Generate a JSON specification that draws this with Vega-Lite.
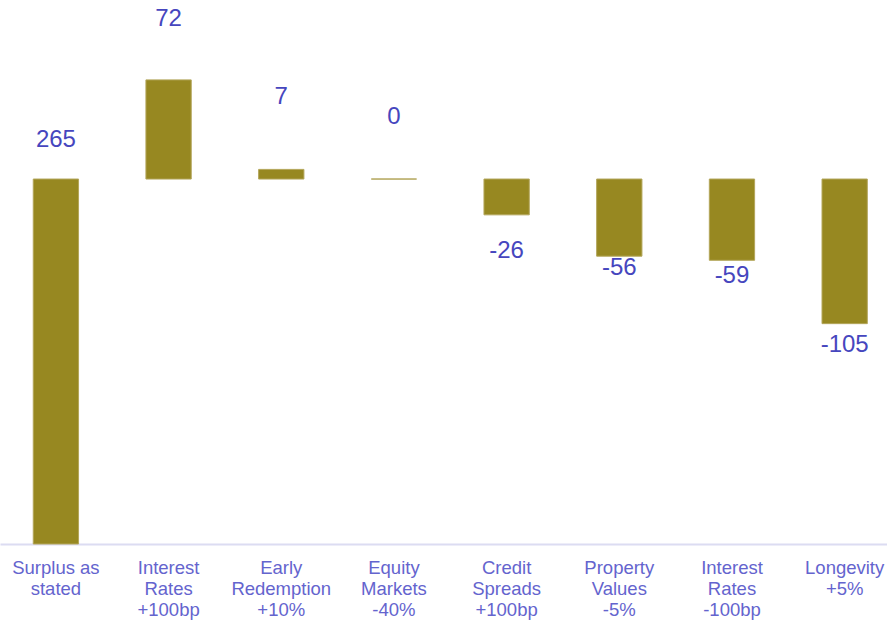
{
  "$schema": "https://vega.github.io/schema/vega-lite/v6.json",
  "width": 887,
  "height": 544,
  "autosize": {"type": "none"},
  "padding": {"left": 0, "top": 0, "right": 0, "bottom": 77},
  "background": "#ffffff",
  "config": {"view": {"stroke": null}, "font": "Liberation Sans"},
  "data": {
    "values": [
      {"cat": "Surplus as|stated", "value": 265, "start": 0, "end": 265},
      {"cat": "Interest|Rates|+100bp", "value": 72, "start": 265, "end": 337},
      {"cat": "Early|Redemption|+10%", "value": 7, "start": 265, "end": 272},
      {"cat": "Equity|Markets|-40%", "value": 0, "start": 265, "end": 265},
      {"cat": "Credit|Spreads|+100bp", "value": -26, "start": 265, "end": 239},
      {"cat": "Property|Values|-5%", "value": -56, "start": 265, "end": 209},
      {"cat": "Interest|Rates|-100bp", "value": -59, "start": 265, "end": 206},
      {"cat": "Longevity|+5%", "value": -105, "start": 265, "end": 160}
    ]
  },
  "encoding": {
    "x": {
      "field": "cat",
      "type": "nominal",
      "sort": null,
      "scale": {"paddingInner": 0.598, "paddingOuter": 0.235, "align": 0.628},
      "axis": {
        "title": null,
        "labelAngle": 0,
        "labelExpr": "split(datum.label, '|')",
        "labelFont": "Liberation Sans",
        "labelFontSize": 18.5,
        "labelLineHeight": 21.3,
        "labelColor": "#6464CE",
        "labelPadding": 14,
        "labelBaseline": "top",
        "ticks": false,
        "domainColor": "#DCDCF2",
        "domainWidth": 2,
        "labelLimit": 200
      }
    }
  },
  "layer": [
    {
      "mark": {"type": "bar", "color": "#978821", "stroke": "#B3A65A", "strokeWidth": 1},
      "encoding": {
        "y": {"field": "start", "type": "quantitative", "scale": {"domain": [0, 395], "nice": false, "zero": true}, "axis": null},
        "y2": {"field": "end"}
      }
    },
    {
      "mark": {
        "type": "text",
        "font": "Liberation Sans",
        "fontSize": 24,
        "color": "#4646BE",
        "baseline": "middle",
        "align": "center",
        "dy": {"expr": "datum.value == 265 ? -39 : datum.value == 72 ? -61 : datum.value == 7 ? -72 : datum.value == 0 ? -62 : datum.value == -26 ? 36 : datum.value == -56 ? 12 : datum.value == -59 ? 16 : 21"}
      },
      "encoding": {
        "y": {"field": "end", "type": "quantitative"},
        "text": {"field": "value", "type": "nominal"}
      }
    }
  ]
}
